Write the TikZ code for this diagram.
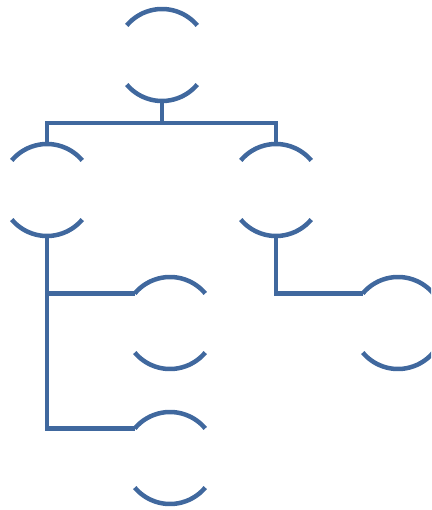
\documentclass[tikz,border=0pt]{standalone}
\usetikzlibrary{positioning}

\definecolor{treeblue}{RGB}{64,104,158}

\newcommand{\halfrings}[1]{%
   \draw[ring] (#1.40) arc[start angle=40,end angle=140,radius=46pt]
               (#1.220) arc[start angle=220,end angle=320,radius=46pt];}

\begin{document}
\begin{tikzpicture}[
         on grid,
         member/.style = {circle,minimum size=92pt,inner sep=0pt,outer sep=0pt},
         ring/.style = {treeblue,line width=4.5pt},
         link/.style = {treeblue,line width=4.5pt}
]
   \useasboundingbox (0pt,0pt) rectangle (431pt,-510pt);
   \clip (0pt,0pt) rectangle (431pt,-510pt);

   % members of the tree
   \node[member] at (162pt,-55pt)                (root) {};
   \node[member,below left=135pt and 115pt of root]  (lft) {};
   \node[member,below right=135pt and 114pt of root] (rgt) {};
   \node[member,below right=133pt and 123pt of lft]  (kida) {};
   \node[member,below=135pt of kida]                 (kidb) {};
   \node[member,below right=133pt and 122pt of rgt]  (kidc) {};

   \foreach \m in {root,lft,rgt,kida,kidb,kidc}
      {\halfrings{\m}}

   % connectors
   \draw[link] (root.south) -- ++(0pt,-22pt) coordinate (bus);
   \draw[link] (lft.north) |- (bus) -| (rgt.north);
   \draw[link] (lft.south) |- (kida.140);
   \draw[link] (lft.south) |- (kidb.140);
   \draw[link] (rgt.south) |- (kidc.140);
\end{tikzpicture}
\end{document}
